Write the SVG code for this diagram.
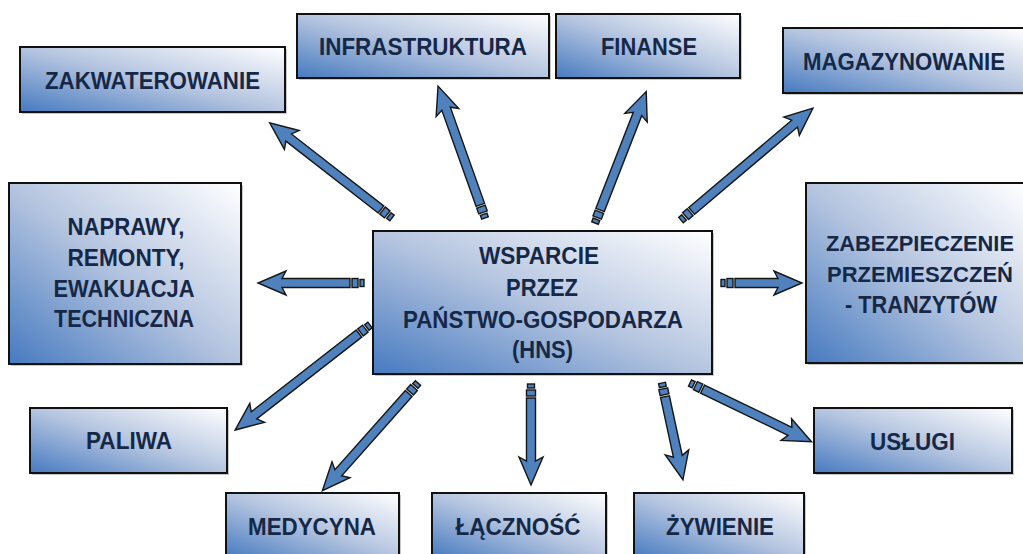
<svg xmlns="http://www.w3.org/2000/svg" width="1023" height="554" viewBox="0 0 1023 554">
<defs>
<linearGradient id="g" x1="0" y1="1" x2="1" y2="0">
<stop offset="0" stop-color="#467ac0"/>
<stop offset="0.5" stop-color="#b5c5e0"/>
<stop offset="1" stop-color="#ffffff"/>
</linearGradient>
<style>
.box{fill:url(#g);stroke:#111;stroke-width:2}
.sh{fill:#888;opacity:0.45}
.t{font-family:"Liberation Sans",Arial,sans-serif;font-weight:bold;font-size:24px;fill:#162847;text-anchor:middle}
.a{fill:#4f81bd;stroke:#161616;stroke-width:1.4;stroke-linejoin:miter}
</style>
</defs>
<rect width="1023" height="554" fill="#fff"/>
<g id="connectors">
<g transform="translate(392,218) rotate(-142.1)"><rect class="a" x="0" y="-3.5" width="4" height="7"/><rect class="a" x="6" y="-4.5" width="6" height="9"/><path class="a" d="M14,-4.5H131L127,-12L155,0L127,12L131,4.5H14Z"/></g>
<g transform="translate(485,218) rotate(-109.6)"><rect class="a" x="0" y="-3.5" width="4" height="7"/><rect class="a" x="6" y="-4.5" width="6" height="9"/><path class="a" d="M14,-4.5H116L112,-12L140,0L112,12L116,4.5H14Z"/></g>
<g transform="translate(595,223) rotate(-68.7)"><rect class="a" x="0" y="-3.5" width="4" height="7"/><rect class="a" x="6" y="-4.5" width="6" height="9"/><path class="a" d="M14,-4.5H117L113,-12L141,0L113,12L117,4.5H14Z"/></g>
<g transform="translate(681,220) rotate(-40.3)"><rect class="a" x="0" y="-3.5" width="4" height="7"/><rect class="a" x="6" y="-4.5" width="6" height="9"/><path class="a" d="M14,-4.5H149L145,-12L173,0L145,12L149,4.5H14Z"/></g>
<g transform="translate(364,283) rotate(180)"><rect class="a" x="0" y="-3.5" width="4" height="7"/><rect class="a" x="6" y="-4.5" width="6" height="9"/><path class="a" d="M14,-4.5H82L78,-12L106,0L78,12L82,4.5H14Z"/></g>
<g transform="translate(721,283)"><rect class="a" x="0" y="-3.5" width="4" height="7"/><rect class="a" x="6" y="-4.5" width="6" height="9"/><path class="a" d="M14,-4.5H57L53,-12L81,0L53,12L57,4.5H14Z"/></g>
<g transform="translate(690,383) rotate(25.8)"><rect class="a" x="0" y="-3.5" width="4" height="7"/><rect class="a" x="6" y="-4.5" width="6" height="9"/><path class="a" d="M14,-4.5H111L107,-12L135,0L107,12L111,4.5H14Z"/></g>
<g transform="translate(662,383) rotate(77.8)"><rect class="a" x="0" y="-3.5" width="4" height="7"/><rect class="a" x="6" y="-4.5" width="6" height="9"/><path class="a" d="M14,-4.5H75L71,-12L99,0L71,12L75,4.5H14Z"/></g>
<g transform="translate(531,384) rotate(90)"><rect class="a" x="0" y="-3.5" width="4" height="7"/><rect class="a" x="6" y="-4.5" width="6" height="9"/><path class="a" d="M14,-4.5H77L73,-12L101,0L73,12L77,4.5H14Z"/></g>
<g transform="translate(418,383) rotate(131.6)"><rect class="a" x="0" y="-3.5" width="4" height="7"/><rect class="a" x="6" y="-4.5" width="6" height="9"/><path class="a" d="M14,-4.5H120L116,-12L144,0L116,12L120,4.5H14Z"/></g>
<g transform="translate(370,325) rotate(142.1)"><rect class="a" x="0" y="-3.5" width="4" height="7"/><rect class="a" x="6" y="-4.5" width="6" height="9"/><path class="a" d="M14,-4.5H147L143,-12L171,0L143,12L147,4.5H14Z"/></g>
</g>
<g id="n-zakwaterowanie"><rect class="sh" x="22" y="49" width="265" height="65"/><rect class="box" x="20" y="47" width="265" height="65"/><text class="t" x="152.5" y="89" textLength="215" lengthAdjust="spacingAndGlyphs">ZAKWATEROWANIE</text></g>
<g id="n-infrastruktura"><rect class="sh" x="299" y="16" width="252" height="64"/><rect class="box" x="297" y="14" width="252" height="64"/><text class="t" x="423" y="55" textLength="208" lengthAdjust="spacingAndGlyphs">INFRASTRUKTURA</text></g>
<g id="n-finanse"><rect class="sh" x="558" y="16" width="184" height="64"/><rect class="box" x="556" y="14" width="184" height="64"/><text class="t" x="649" y="55" textLength="96" lengthAdjust="spacingAndGlyphs">FINANSE</text></g>
<g id="n-magazynowanie"><rect class="sh" x="785" y="30" width="241" height="65"/><rect class="box" x="783" y="28" width="241" height="65"/><text class="t" x="904" y="70" textLength="202" lengthAdjust="spacingAndGlyphs">MAGAZYNOWANIE</text></g>
<g id="n-naprawy"><rect class="sh" x="11" y="185" width="232" height="181"/><rect class="box" x="9" y="183" width="232" height="181"/>
<text class="t" x="126" y="235" textLength="117" lengthAdjust="spacingAndGlyphs">NAPRAWY,</text>
<text class="t" x="126" y="266" textLength="117" lengthAdjust="spacingAndGlyphs">REMONTY,</text>
<text class="t" x="124" y="297" textLength="141" lengthAdjust="spacingAndGlyphs">EWAKUACJA</text>
<text class="t" x="124" y="327" textLength="140" lengthAdjust="spacingAndGlyphs">TECHNICZNA</text></g>
<g id="n-hns"><rect class="sh" x="375" y="233" width="339" height="143"/><rect class="box" x="373" y="231" width="339" height="143"/>
<text class="t" x="539" y="264" textLength="120" lengthAdjust="spacingAndGlyphs">WSPARCIE</text>
<text class="t" x="542" y="296" textLength="72" lengthAdjust="spacingAndGlyphs">PRZEZ</text>
<text class="t" x="543" y="328" textLength="280" lengthAdjust="spacingAndGlyphs">PAŃSTWO-GOSPODARZA</text>
<text class="t" x="542.5" y="358" textLength="61" lengthAdjust="spacingAndGlyphs">(HNS)</text></g>
<g id="n-zabezpieczenie"><rect class="sh" x="808" y="185" width="215" height="180"/><rect x="806" y="183" width="217" height="180" fill="url(#g)"/><path d="M1023,183H806V363H1023" fill="none" stroke="#111" stroke-width="2"/>
<text class="t" x="920" y="251" textLength="188" lengthAdjust="spacingAndGlyphs" style="font-size:22px">ZABEZPIECZENIE</text>
<text class="t" x="920" y="282" textLength="186" lengthAdjust="spacingAndGlyphs" style="font-size:22px">PRZEMIESZCZEŃ</text>
<text class="t" x="921" y="313" textLength="152" lengthAdjust="spacingAndGlyphs">- TRANZYTÓW</text></g>
<g id="n-uslugi"><rect class="sh" x="816" y="410" width="198" height="65"/><rect class="box" x="814" y="408" width="198" height="65"/><text class="t" x="912.5" y="450" textLength="85" lengthAdjust="spacingAndGlyphs">USŁUGI</text></g>
<g id="n-paliwa"><rect class="sh" x="32" y="410" width="197" height="65"/><rect class="box" x="30" y="408" width="197" height="65"/><text class="t" x="129" y="449" textLength="86" lengthAdjust="spacingAndGlyphs">PALIWA</text></g>
<g id="n-medycyna"><rect class="sh" x="228" y="495" width="173" height="65"/><rect class="box" x="226" y="493" width="173" height="65"/><text class="t" x="312" y="535" textLength="128" lengthAdjust="spacingAndGlyphs">MEDYCYNA</text></g>
<g id="n-lacznosc"><rect class="sh" x="434" y="495" width="174" height="65"/><rect class="box" x="432" y="493" width="174" height="65"/><text class="t" x="518" y="535" textLength="125" lengthAdjust="spacingAndGlyphs">ŁĄCZNOŚĆ</text></g>
<g id="n-zywienie"><rect class="sh" x="636" y="495" width="170" height="65"/><rect class="box" x="634" y="493" width="170" height="65"/><text class="t" x="720" y="535" textLength="108" lengthAdjust="spacingAndGlyphs">ŻYWIENIE</text></g>
</svg>
